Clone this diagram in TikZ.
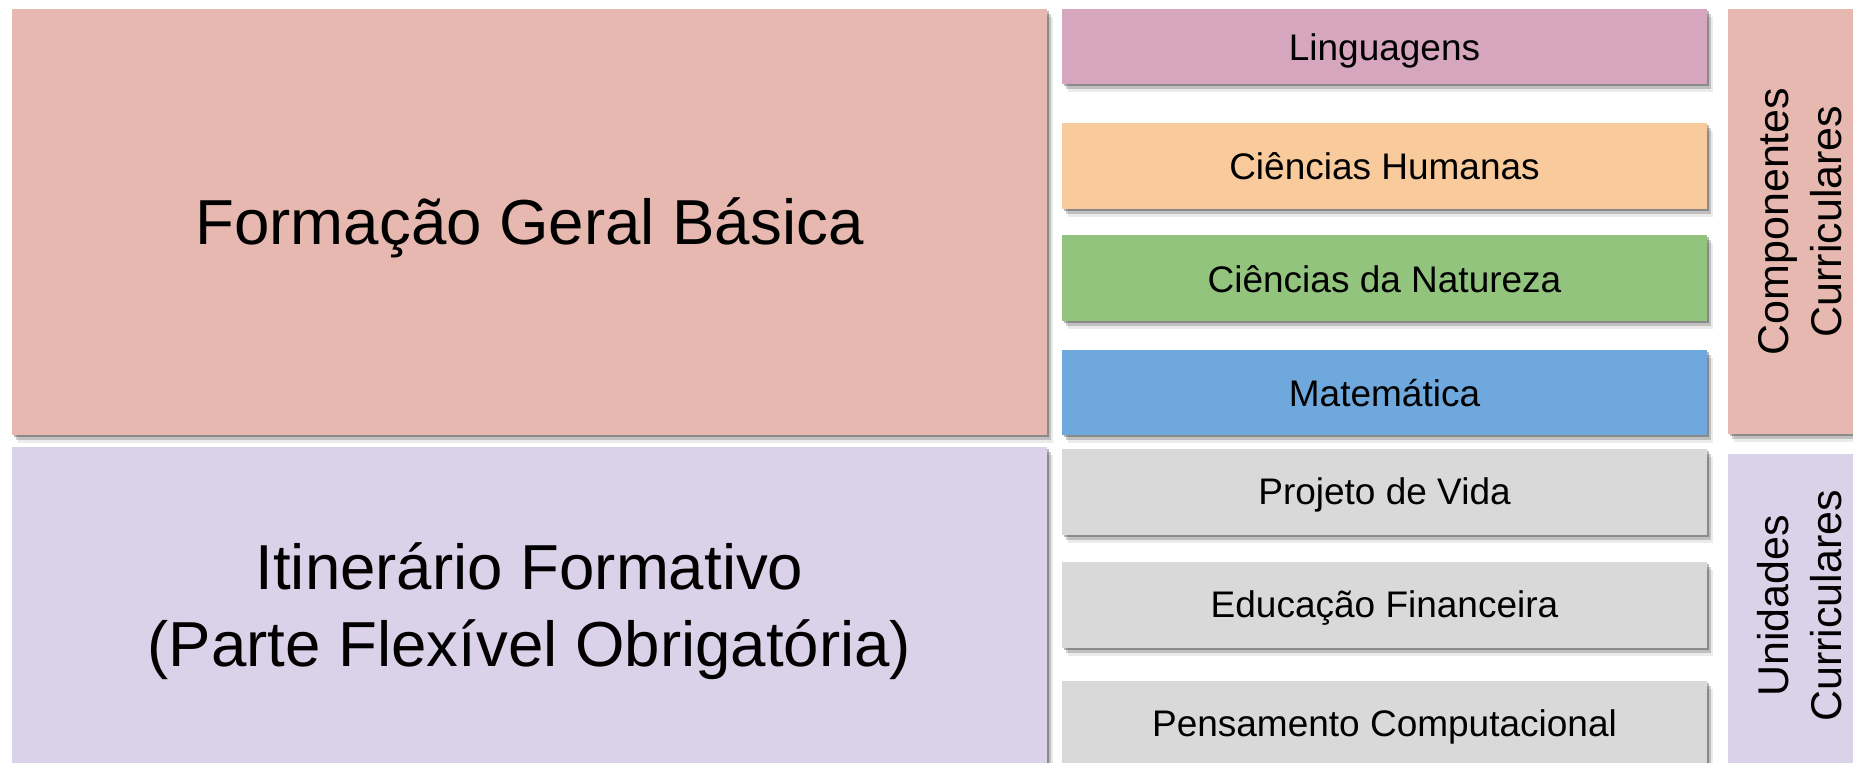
\documentclass[tikz,border=0pt]{standalone}
\usepackage{fontspec}
\setmainfont{Liberation Sans}
\usetikzlibrary{shadows}
\definecolor{cpink}{HTML}{E6B8AF}
\definecolor{clav}{HTML}{D9D2E9}
\definecolor{cmag}{HTML}{D5A6BD}
\definecolor{corange}{HTML}{F9CB9C}
\definecolor{cgreen}{HTML}{93C47D}
\definecolor{cblue}{HTML}{6FA8DC}
\definecolor{cgray}{HTML}{D9D9D9}
\tikzset{
  shd/.style={drop shadow={shadow xshift=0.8pt, shadow yshift=-1.2pt, opacity=.28, fill=black},
              drop shadow={shadow xshift=1.8pt, shadow yshift=-2.6pt, opacity=.18, fill=black},
              drop shadow={shadow xshift=2.8pt, shadow yshift=-3.8pt, opacity=.08, fill=black}},
  bigbox/.style={shd, inner sep=0pt, minimum width=517.5pt},
  bigtext/.style={inner sep=0pt, align=center, font=\fontsize{31.8}{38.5}\selectfont},
  areabox/.style={shd, inner sep=0pt, minimum width=322.5pt},
  areatext/.style={inner sep=0pt, font=\fontsize{18.5}{22}\selectfont},
  sidebox/.style={shd, inner sep=0pt, minimum width=72pt},
  sidetext/.style={rotate=90, align=center, inner sep=0pt, font=\fontsize{21.5}{26.5}\selectfont}
}
\begin{document}
\begin{tikzpicture}[x=0.5pt,y=-0.5pt]
\useasboundingbox (0,0) rectangle (1853,763);
\clip (0,0) rectangle (1853,763);
\fill[white] (0,0) rectangle (1853,763);
% left big boxes
\node[bigbox, fill=cpink, minimum height=213pt] (fgb) at (529.5,222) {};
\node[bigtext] (fgbt) at ([yshift=-3pt]fgb.center) {Formação Geral Básica};
\node[bigbox, fill=clav, minimum height=158pt] (itf) at (529.5,605) {};
\node[bigtext] (itft) at ([yshift=-3pt]itf.center) {Itinerário Formativo\\(Parte Flexível Obrigatória)};
% middle boxes
\node[areabox, fill=cmag, minimum height=37.5pt] (ling) at (1384.5,46.5) {};
\node[areatext] (lingt) at ([yshift=-2.4pt]ling.center) {Linguagens};
\node[areabox, fill=corange, minimum height=43pt] (ch) at (1384.5,166) {};
\node[areatext] (cht) at ([yshift=-0.2pt]ch.center) {Ciências Humanas};
\node[areabox, fill=cgreen, minimum height=43pt] (cn) at (1384.5,278) {};
\node[areatext] (cnt) at ([yshift=-0.5pt]cn.center) {Ciências da Natureza};
\node[areabox, fill=cblue, minimum height=42.5pt] (mat) at (1384.5,392.5) {};
\node[areatext] (matt) at ([yshift=-0.5pt]mat.center) {Matemática};
\node[areabox, fill=cgray, minimum height=43pt] (pv) at (1384.5,492) {};
\node[areatext] (pvt) at ([yshift=-1.6pt]pv.center) {Projeto de Vida};
\node[areabox, fill=cgray, minimum height=43pt] (ef) at (1384.5,605) {};
\node[areatext] (eft) at ([yshift=-1.6pt]ef.center) {Educação Financeira};
\node[areabox, fill=cgray, minimum height=43pt] (pc) at (1384.5,724) {};
\node[areatext] (pct) at ([yshift=-1.6pt]pc.center) {Pensamento Computacional};
% right side boxes
\node[sidebox, fill=cpink, minimum height=212.5pt] (cc) at (1800,221.5) {};
\node[sidetext] (cct) at (cc.center) {Componentes\\Curriculares};
\node[sidebox, fill=clav, minimum height=160pt] (uc) at (1800,614) {};
\node[sidetext] (uct) at (1800,606) {Unidades\\Curriculares};
\end{tikzpicture}
\end{document}
